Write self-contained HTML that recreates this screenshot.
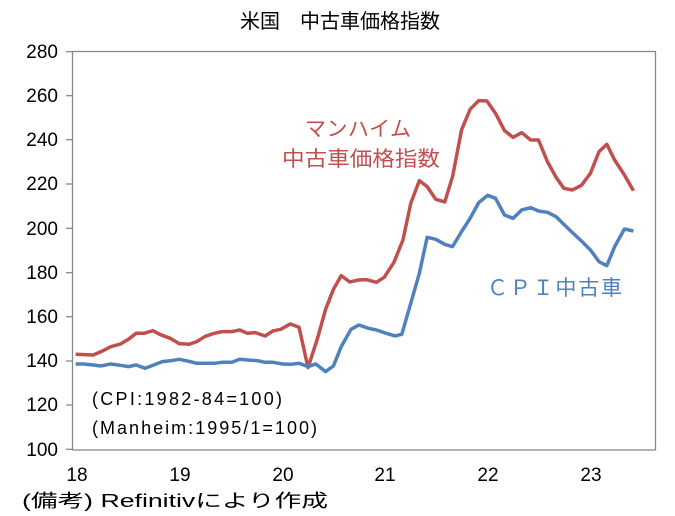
<!DOCTYPE html>
<html><head><meta charset="utf-8"><style>
html,body{margin:0;padding:0;background:#fff;}
svg{display:block;font-family:"Liberation Sans","Noto Sans CJK JP",sans-serif;}
</style></head><body>
<svg width="675" height="516" viewBox="0 0 675 516" xmlns="http://www.w3.org/2000/svg">
<text x="340" y="28" font-size="20" text-anchor="middle" fill="#000">米国　中古車価格指数</text>
<rect x="72.5" y="51.5" width="583" height="398.5" fill="none" stroke="#888" stroke-width="1.3"/>
<g stroke="#888" stroke-width="1.3">
<line x1="66" x2="72" y1="51.7" y2="51.7"/><line x1="66" x2="72" y1="95.7" y2="95.7"/><line x1="66" x2="72" y1="139.7" y2="139.7"/><line x1="66" x2="72" y1="184" y2="184"/><line x1="66" x2="72" y1="228.3" y2="228.3"/><line x1="66" x2="72" y1="272.7" y2="272.7"/><line x1="66" x2="72" y1="316.7" y2="316.7"/><line x1="66" x2="72" y1="361" y2="361"/><line x1="66" x2="72" y1="405" y2="405"/><line x1="66" x2="72" y1="449.3" y2="449.3"/>
</g>
<g font-size="19" text-anchor="end" fill="#000" transform="translate(58,0)">
<text x="0" y="58">280</text><text x="0" y="102">260</text><text x="0" y="146">240</text><text x="0" y="190">220</text><text x="0" y="235">200</text><text x="0" y="279">180</text><text x="0" y="323">160</text><text x="0" y="367">140</text><text x="0" y="411">120</text><text x="0" y="456">100</text>
</g>
<g font-size="19" text-anchor="middle" fill="#000">
<text x="77" y="481">18</text><text x="180" y="481">19</text><text x="283" y="481">20</text><text x="385" y="481">21</text><text x="488" y="481">22</text><text x="591" y="481">23</text>
</g>
<text x="22" y="507" font-size="18" fill="#000" textLength="306" lengthAdjust="spacingAndGlyphs">(備考) Refinitivにより作成</text>
<g transform="translate(60,40) scale(0.3906,0.3333)" fill="none" stroke-width="3.5" stroke-linejoin="round">
<polyline vector-effect="non-scaling-stroke" stroke="#c0504d" points="40,943 85,945 105,935 130,920 155,912 175,898 195,880 215,880 238,872 255,883 282,895 305,911 330,913 350,905 372,889 395,880 415,875 440,875 460,870 480,880 500,878 525,888 545,873 565,868 590,852 612,862 635,983 658,900 680,808 700,748 720,707 742,726 765,720 785,719 810,727 830,712 855,667 878,600 898,490 920,422 940,440 962,478 985,486 1005,410 1028,270 1050,208 1072,182 1093,183 1115,220 1138,272 1160,292 1182,278 1205,300 1225,300 1248,365 1270,412 1290,445 1312,450 1335,436 1358,400 1380,335 1400,313 1420,360 1445,405 1468,452"/>
<polyline vector-effect="non-scaling-stroke" stroke="#4f81bd" points="40,972 60,972 85,975 105,978 130,972 155,976 175,980 195,975 218,985 240,975 262,965 285,962 305,958 330,964 350,970 372,970 395,970 415,967 440,967 460,958 480,960 505,962 525,967 545,967 570,972 590,973 612,970 635,980 655,972 680,995 700,978 720,920 745,868 765,855 790,865 810,870 835,880 858,888 875,883 898,790 920,700 940,592 962,598 985,613 1005,620 1028,575 1050,535 1072,488 1095,466 1115,475 1138,525 1160,535 1182,510 1205,503 1225,513 1248,517 1270,530 1290,553 1312,578 1335,603 1358,630 1380,665 1400,677 1420,620 1445,567 1468,573"/>
</g>
<text x="305" y="136" font-size="21" fill="#c0504d" textLength="106" lengthAdjust="spacing">マンハイム</text>
<text x="282" y="166" font-size="21" fill="#c0504d" textLength="158" lengthAdjust="spacingAndGlyphs">中古車価格指数</text>
<text x="487" y="295" font-size="21" fill="#4f81bd" textLength="135" lengthAdjust="spacing">ＣＰＩ中古車</text>
<text x="92" y="405" font-size="18" fill="#000" textLength="190">(CPI:1982-84=100)</text>
<text x="92" y="434" font-size="18" fill="#000" textLength="225">(Manheim:1995/1=100)</text>
</svg>
</body></html>
